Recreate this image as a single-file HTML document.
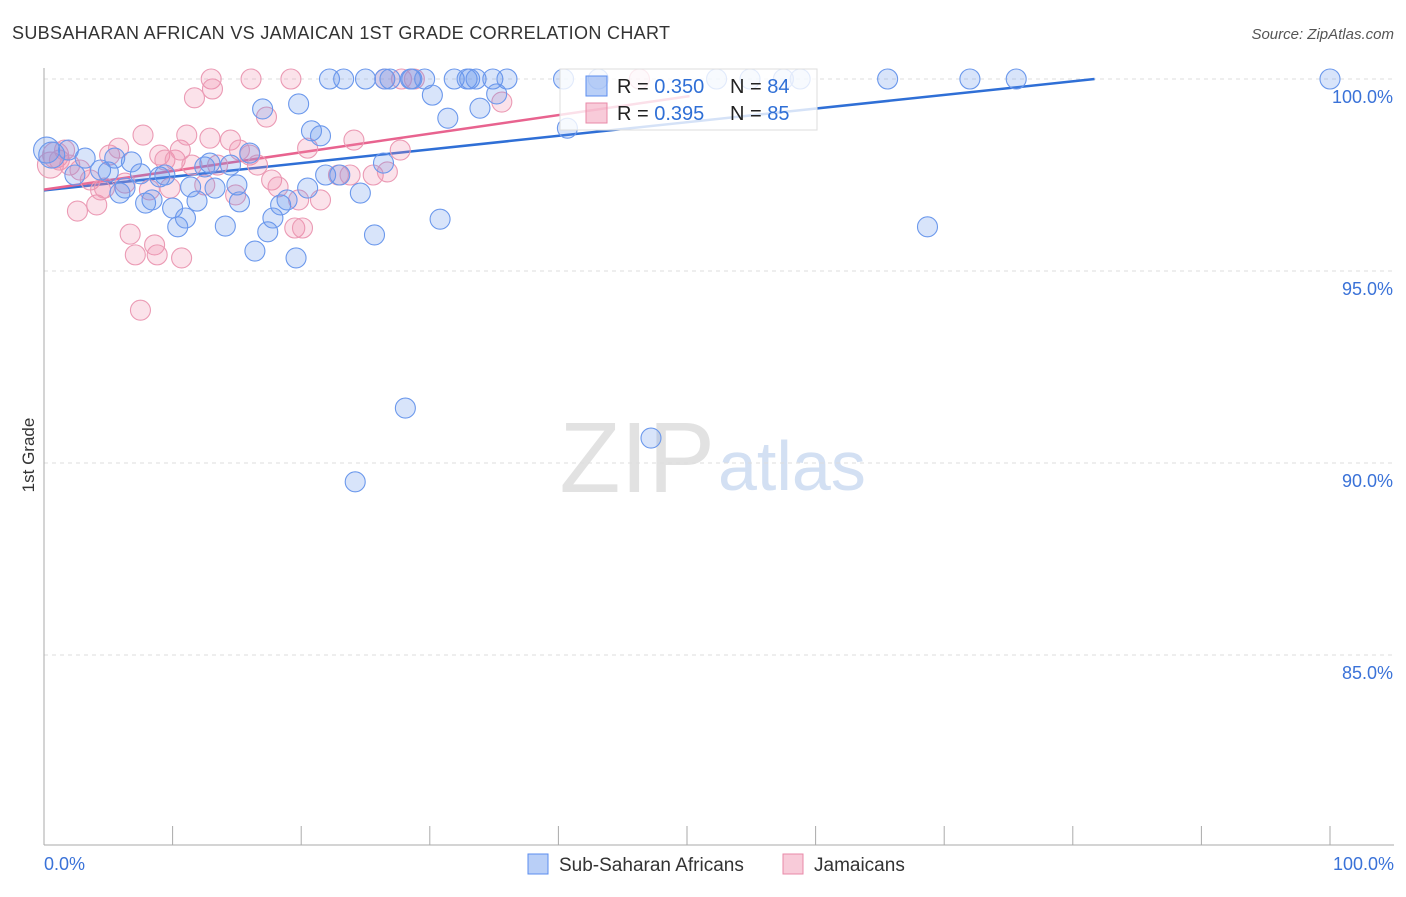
<!DOCTYPE html>
<html><head><meta charset="utf-8"><style>
body{margin:0;background:#fff;font-family:"Liberation Sans",sans-serif;}
svg text{font-family:"Liberation Sans",sans-serif;}
</style></head><body>
<svg id="chart" width="1406" height="892" xmlns="http://www.w3.org/2000/svg">
<text x="12" y="39" font-size="18" fill="#333" textLength="658">SUBSAHARAN AFRICAN VS JAMAICAN 1ST GRADE CORRELATION CHART</text>
<text x="1394" y="39" font-size="15" fill="#555" font-style="italic" text-anchor="end">Source: ZipAtlas.com</text>
<text x="0" y="0" transform="translate(34,455) rotate(-90)" font-size="17" fill="#333" text-anchor="middle">1st Grade</text>
<text x="715" y="492" font-size="100" fill="#e2e2e2" font-family="Liberation Serif" text-anchor="end">ZIP</text>
<text x="718" y="490" font-size="70" fill="#d3e0f3">atlas</text>
<g id="grid"></g><g id="axes"></g><g id="trend"></g><g id="pts"></g>
<g>
<rect x="560" y="69" width="257" height="61" fill="#fff" fill-opacity="0.8" stroke="#ddd"/>
<rect x="586" y="76" width="21" height="20" fill="rgba(100,149,237,0.45)" stroke="#5b8def"/>
<rect x="586" y="103" width="21" height="20" fill="rgba(240,140,170,0.45)" stroke="#e88aa8"/>
<text x="617" y="93" font-size="20" fill="#222">R = <tspan fill="#2f6fd6">0.350</tspan></text>
<text x="730" y="93" font-size="20" fill="#222">N = <tspan fill="#2f6fd6">84</tspan></text>
<text x="617" y="120" font-size="20" fill="#222">R = <tspan fill="#2f6fd6">0.395</tspan></text>
<text x="730" y="120" font-size="20" fill="#222">N = <tspan fill="#2f6fd6">85</tspan></text>
</g>
<g>
<rect x="528" y="854" width="20" height="20" fill="rgba(100,149,237,0.45)" stroke="#5b8def"/>
<text x="559" y="871" font-size="19" fill="#333">Sub-Saharan Africans</text>
<rect x="783" y="854" width="20" height="20" fill="rgba(240,140,170,0.45)" stroke="#e88aa8"/>
<text x="814" y="871" font-size="19" fill="#333">Jamaicans</text>
</g>
</svg>
<script>
const blueX=[0.2,0.6,1.9,3.2,2.4,4.4,5.0,5.5,5.9,6.3,6.8,7.5,7.9,8.4,9.0,9.4,10.0,10.4,11.0,11.4,11.9,12.5,12.9,13.3,14.1,14.5,15.0,15.2,16.0,16.4,17.0,17.4,17.8,18.4,18.9,19.6,19.8,20.5,20.8,21.5,21.9,22.2,23.0,23.3,24.2,24.6,25.0,25.7,26.4,26.5,26.9,28.1,28.5,28.6,29.6,30.2,30.8,31.4,31.9,32.9,33.1,33.6,33.9,34.9,35.2,36.0,40.4,40.7,43.1,47.2,52.3,54.9,57.5,58.8,65.6,68.7,72.0,75.6,100];
const blueY=[98.15,98.02,98.15,97.94,97.5,97.63,97.58,97.94,97.03,97.16,97.84,97.53,96.77,96.85,97.45,97.5,96.64,96.15,96.38,97.19,96.82,97.71,97.81,97.16,96.17,97.76,97.24,96.8,98.07,95.52,99.22,96.02,96.38,96.72,96.85,95.34,99.35,97.16,98.65,98.52,97.5,100,97.5,100,89.51,97.03,100,95.94,97.81,100,100,91.43,100,100,100,99.58,96.35,98.98,100,100,100,100,99.24,100,99.61,100,100,98.72,100,90.65,100,100,100,100,100,96.15,100,100,100];
const pinkX=[0.5,0.9,1.2,1.6,2.0,2.6,2.8,3.6,4.1,4.4,4.7,5.1,5.8,6.3,6.7,7.1,7.5,7.7,8.2,8.6,8.8,9.0,9.4,9.8,10.2,10.6,10.7,11.1,11.5,11.7,12.5,12.9,13.0,13.1,13.5,14.5,14.9,15.2,16.0,16.1,16.6,17.3,17.7,18.2,19.2,19.5,19.8,20.1,20.5,21.5,22.9,23.8,24.1,25.6,26.5,26.7,27.7,27.8,28.8,35.6,46.3];
const pinkY=[97.76,98.02,97.89,98.15,97.76,96.56,97.63,97.37,96.72,97.11,97.16,98.02,98.2,97.29,95.96,95.42,93.98,98.54,97.11,95.68,95.42,98.02,97.89,97.16,97.89,98.15,95.34,98.54,97.76,99.51,97.24,98.46,100,99.74,97.76,98.41,96.98,98.15,98.02,100,97.76,99.01,97.37,97.19,100,96.12,96.85,96.12,98.2,96.85,97.5,97.5,98.41,97.5,100,97.58,98.15,100,100,99.4,100];
const yTicks=[100,95,90,85];
const yTickLabels=["100.0%","95.0%","90.0%","85.0%"];
const trendBlue=[97.1,0.0355];  // intercept, slope
const trendPink=[97.12,0.0485];
const xs=v=>44+v*12.86, ys=v=>79+(100-v)*38.4;
const NS="http://www.w3.org/2000/svg";
function mk(tag,attrs,parent){const e=document.createElementNS(NS,tag);for(const k in attrs)e.setAttribute(k,attrs[k]);document.getElementById(parent).appendChild(e);return e;}
yTicks.forEach((t,i)=>{
 const g=mk('line',{x1:44,x2:1394,y1:ys(t),y2:ys(t),stroke:'#ddd','stroke-dasharray':'4,4'},'grid');
 
 
 const l=mk('text',{x:1393,y:ys(t)+24,'font-size':18,fill:'#3a72d8','text-anchor':'end'},'grid');
 l.textContent=yTickLabels[i];
 
 
});
const ax=mk('line',{x1:44,x2:44,y1:68,y2:845,stroke:'#aaa'},'axes');


const bx=mk('line',{x1:44,x2:1394,y1:845,y2:845,stroke:'#aaa'},'axes');


for(let i=0;i<=10;i++){const t=mk('line',{x1:xs(i*10),x2:xs(i*10),y1:826,y2:845,stroke:'#aaa'},'axes');
 
 }
[[0,"0.0%",'start',44],[100,"100.0%",'end',1394]].forEach(a=>{const t=mk('text',{x:a[3],y:870,'font-size':18,fill:'#3a72d8','text-anchor':a[2]},'axes');t.textContent=a[1];
 
 });
function trend(p,xend,col,name){const e=Math.min(xend,(100-p[0])/p[1]);
 const l=mk('line',{x1:xs(0),y1:ys(p[0]),x2:xs(e),y2:ys(p[0]+p[1]*e),stroke:col,'stroke-width':2.5},'trend');
 
 }
trend(trendBlue,100,'#2f6fd6','trend-line-sub-saharan');
trend(trendPink,50.2,'#e8638f','trend-line-jamaicans');
function pts(X,Y,fill,stroke,name){X.forEach((x,i)=>{const c=mk('circle',{cx:xs(x),cy:ys(Y[i]),r:i<2?13:10,fill:fill,stroke:stroke,'stroke-width':1.1},'pts');
 
 });}
pts(pinkX,pinkY,'rgba(240,140,170,0.25)','#eb9ab4','point-jamaican');
pts(blueX,blueY,'rgba(100,149,237,0.25)','#6b98ec','point-sub-saharan');
</script>
</body></html>
